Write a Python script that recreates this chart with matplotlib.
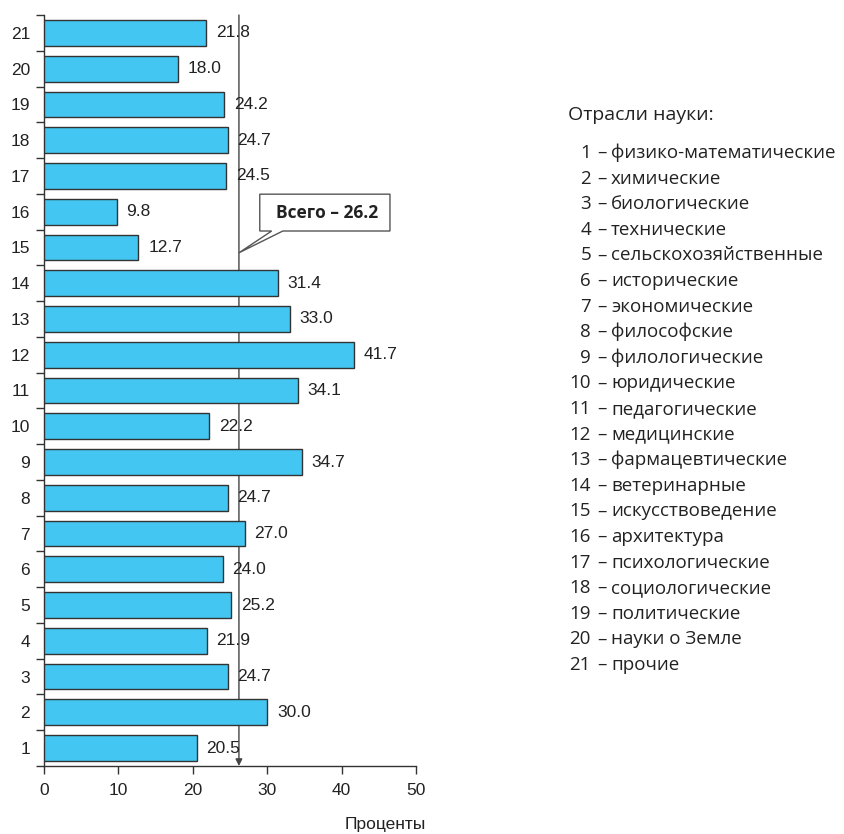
import matplotlib as mpl
mpl.use('Agg')
import matplotlib.pyplot as plt
from matplotlib.patches import Polygon
import numpy as np

plt.rcParams['font.family'] = ['Liberation Sans', 'DejaVu Sans']

########################################
# data

codes = list(range(1, 22))
values = [20.5, 30.0, 24.7, 21.9, 25.2, 24.0, 27.0, 24.7, 34.7, 22.2, 34.1,
          41.7, 33.0, 31.4, 12.7, 9.8, 24.5, 24.7, 24.2, 18.0, 21.8]
labels = ['физико-математические', 'химические', 'биологические', 'технические',
          'сельскохозяйственные', 'исторические', 'экономические', 'философские',
          'филологические', 'юридические', 'педагогические', 'медицинские',
          'фармацевтические', 'ветеринарные', 'искусствоведение', 'архитектура',
          'психологические', 'социологические', 'политические', 'науки о Земле',
          'прочие']
total = 26.2
xticks = [0, 10, 20, 30, 40, 50]

########################################

fig = plt.figure(figsize=(8.44, 8.34), dpi=100)
ax = fig.add_axes([44/844, 1 - 766/834, 372/844, 751/834])

ax.barh(codes, values, height=0.72, color='#43C6F2', edgecolor='#333333',
        linewidth=1.0, zorder=3)
for c, v in zip(codes, values):
    ax.text(v + 1.3, c, '%.1f' % v, ha='left', va='center', fontsize=12.5,
            color='#222222', zorder=4)

# overall average line with arrow
ax.annotate('', xy=(total, 0.5), xytext=(total, 21.5),
            arrowprops=dict(arrowstyle='-|>', color='#444444', lw=1.0,
                            mutation_scale=10, shrinkA=0, shrinkB=0),
            zorder=1, annotation_clip=False)

# callout box
lf = ['Open Sans', 'DejaVu Sans']
x0, x1 = 29.0, 46.5
yb, yt = 15.46, 16.49
pointer = [(x0, yb), (30.6, yb), (total, 14.85), (32.1, yb), (x1, yb),
           (x1, yt), (x0, yt)]
ax.add_patch(Polygon(pointer, closed=True, facecolor='white',
                     edgecolor='#555555', lw=1.0, zorder=5, clip_on=False))
ax.text((x0 + x1) / 2 + 0.3, (yb + yt) / 2, 'Всего – 26.2', ha='center',
        va='center', fontsize=12.5, fontweight='bold', family=lf,
        color='#222222', zorder=6)

ax.set_xlim(0, 50)
ax.set_ylim(0.5, 21.5)
ax.set_xticks(xticks)
ax.set_yticks(np.arange(0.5, 22, 1))
ax.set_yticklabels([])
ax.set_yticks(codes, minor=True)
ax.set_yticklabels([str(c) for c in codes], minor=True)
ax.tick_params(axis='y', which='major', length=6, width=1, color='#333333')
ax.tick_params(axis='y', which='minor', length=0, pad=10, labelsize=12.5,
               labelcolor='#222222')
ax.tick_params(axis='x', length=6, width=1, color='#333333', labelsize=12.5,
               labelcolor='#222222', pad=6)
for s in ['top', 'right']:
    ax.spines[s].set_visible(False)
for s in ['left', 'bottom']:
    ax.spines[s].set_color('#333333')
    ax.spines[s].set_linewidth(1.0)

fig.text(385/844, 1 - 825/834, 'Проценты', ha='center', va='center',
         fontsize=12.5, color='#222222')

# list of branches
fig.text(568/844, 1 - 115/834, 'Отрасли науки:', ha='left', va='center',
         fontsize=14, family=lf, color='#222222')
for i, (c, name) in enumerate(zip(codes, labels)):
    y = 1 - (153 + i * 25.6) / 834
    fig.text(591/844, y, str(c), ha='right', va='center', fontsize=13.5,
             family=lf, color='#222222')
    fig.text(601.5/844, y, '–', ha='center', va='center', fontsize=13.5,
             family=lf, color='#222222')
    fig.text(611/844, y, name, ha='left', va='center', fontsize=13.5,
             family=lf, color='#222222')

plt.savefig('out.png', dpi=100)
